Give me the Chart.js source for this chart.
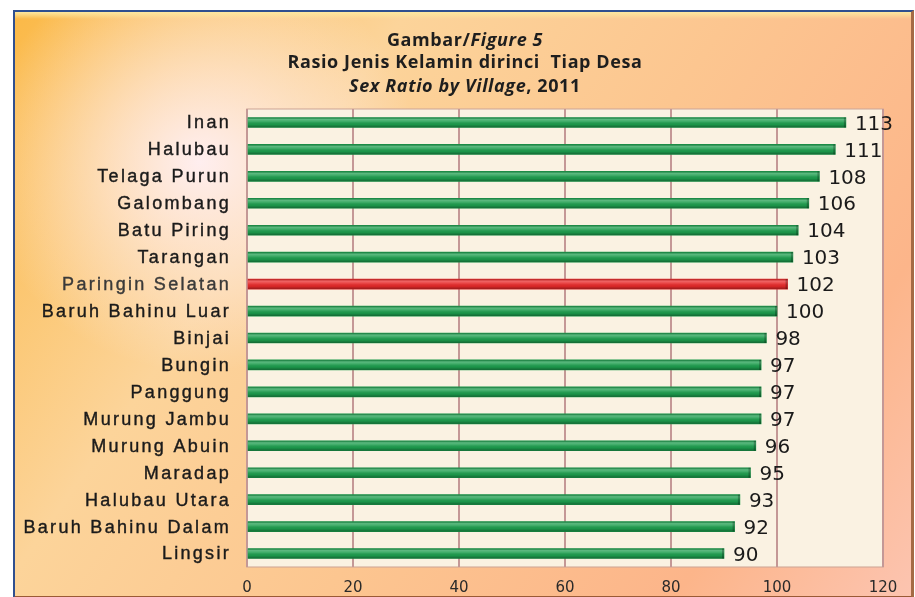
<!DOCTYPE html>
<html>
<head>
<meta charset="utf-8">
<script src="https://cdn.jsdelivr.net/npm/chart.js@4.4.1/dist/chart.umd.min.js"></script>
<style>
  html,body{margin:0;padding:0;background:#ffffff;width:915px;height:597px;overflow:hidden;}
  #frame{position:absolute;left:13px;top:10px;width:896px;height:584px;
    border-left:2px solid #2f4f8f;border-top:2px solid #2f4f8f;border-right:3px solid #a56a45;border-bottom:3px solid #9a5a35;
    background:linear-gradient(125deg,#fbb947 0%,#fcd49a 30%,#fcc690 55%,#fcb58a 82%,#fcc4b0 100%);}
  #glow{position:absolute;left:0;top:0;width:100%;height:100%;
    background:radial-gradient(ellipse 220px 210px at 185px 150px,rgba(255,240,245,0.95),rgba(255,235,235,0) 100%);}
  #bevel{position:absolute;left:0;top:0;width:100%;height:7px;background:linear-gradient(#fde8a0,rgba(253,232,160,0));}
  canvas{position:absolute;left:0;top:0;}
</style>
</head>
<body>
<div id="frame"><div id="glow"></div><div id="bevel"></div><canvas id="c" width="896" height="584"></canvas></div>
<script>
const categories = ["Inan","Halubau","Telaga Purun","Galombang","Batu Piring","Tarangan","Paringin Selatan","Baruh Bahinu Luar","Binjai","Bungin","Panggung","Murung Jambu","Murung Abuin","Maradap","Halubau Utara","Baruh Bahinu Dalam","Lingsir"];
const sexRatio = [113,111,108,106,104,103,102,100,98,97,97,97,96,95,93,92,90];
const highlightVillage = "Paringin Selatan";
const xTicks = [0,20,40,60,80,100,120];
const titleLines = [
  [["Gambar/",""],["Figure 5","italic"]],
  [["Rasio Jenis Kelamin dirinci  Tiap Desa",""]],
  [["Sex Ratio by Village","italic"],[", 2011",""]]
];

const GREEN = "#1d9e4e", RED = "#e82a2a";

const titlePlugin = {
  id:"titleMixed",
  afterDraw(chart){
    const ctx = chart.ctx;
    const ys = [29,51,75];
    ctx.save();
    ctx.fillStyle = "#1e1e1e";
    ctx.textBaseline = "middle";
    if ('letterSpacing' in ctx) ctx.letterSpacing = "0.6px";
    titleLines.forEach((parts,i)=>{
      const fonts = parts.map(p=> (p[1]==="italic"?"italic ":"") + "bold 18px 'Open Sans', Lato, sans-serif");
      let total = 0;
      parts.forEach((p,j)=>{ctx.font=fonts[j]; total += ctx.measureText(p[0]).width;});
      let x = chart.width/2 - total/2 + 2;
      ctx.textAlign = "left";
      parts.forEach((p,j)=>{ctx.font=fonts[j]; ctx.fillText(p[0],x,ys[i]); x += ctx.measureText(p[0]).width;});
    });
    ctx.restore();
  }
};

const plotBg = {
  id:"plotBg",
  beforeDraw(chart){
    const {ctx,chartArea:a} = chart;
    ctx.save();
    ctx.fillStyle = "#faf2e2";
    ctx.fillRect(a.left,a.top,a.right-a.left,a.bottom-a.top);
    ctx.strokeStyle = "rgba(205,165,150,0.7)";
    ctx.lineWidth = 1.5;
    ctx.strokeRect(a.left,a.top,a.right-a.left,a.bottom-a.top);
    ctx.restore();
  }
};

const barShine = {
  id:"barShine",
  afterDatasetsDraw(chart){
    const ctx = chart.ctx;
    const meta = chart.getDatasetMeta(0);
    ctx.save();
    meta.data.forEach((el,i)=>{
      const p = el.getProps(["x","y","base","height"],true);
      const h = p.height, top = p.y - h/2;
      const g = ctx.createLinearGradient(0,top,0,top+h);
      g.addColorStop(0,"rgba(0,0,0,0.2)");
      g.addColorStop(0.2,"rgba(255,255,255,0.28)");
      g.addColorStop(0.4,"rgba(255,255,255,0.15)");
      g.addColorStop(0.7,"rgba(0,0,0,0.05)");
      g.addColorStop(1,"rgba(0,0,0,0.35)");
      ctx.fillStyle = g;
      ctx.fillRect(p.base, top, p.x-p.base, h);
      ctx.fillStyle = "rgba(0,0,0,0.25)";
      ctx.fillRect(p.x-2, top, 2, h);
    });
    // value labels
    ctx.fillStyle = "#1a1a1a";
    ctx.font = "20px 'DejaVu Sans', Verdana, sans-serif";
    ctx.textAlign = "left";
    ctx.textBaseline = "middle";
    meta.data.forEach((el,i)=>{
      ctx.fillText(String(sexRatio[i]), el.x + 9, el.y + 2);
    });
    // category labels (with letter spacing)
    const ys = chart.scales.y;
    ctx.font = "18px 'Liberation Sans', Arial, sans-serif";
    ctx.textAlign = "right";
    ctx.lineWidth = 0.4;
    if ('letterSpacing' in ctx) ctx.letterSpacing = "2.3px";
    categories.forEach((c,i)=>{
      const col = c===highlightVillage ? "#3a3a3a" : "#1b1b1b";
      ctx.fillStyle = col; ctx.strokeStyle = col;
      const y = ys.getPixelForValue(i) + 1;
      ctx.fillText(c, ys.right - 16, y);
      ctx.strokeText(c, ys.right - 16, y);
    });
    ctx.restore();
  }
};

new Chart(document.getElementById("c"),{
  type:"bar",
  data:{
    labels:categories,
    datasets:[{
      data:sexRatio,
      backgroundColor:categories.map(c=>c===highlightVillage?RED:GREEN),
      borderWidth:0,
      barThickness:10
    }]
  },
  options:{
    indexAxis:"y",
    responsive:false,
    animation:false,
    devicePixelRatio:1,
    layout:{padding:{top:97,right:28,left:0,bottom:0}},
    plugins:{legend:{display:false},tooltip:{enabled:false},title:{display:false}},
    scales:{
      x:{
        min:0,max:120,
        afterBuildTicks(s){ s.ticks = xTicks.map(v=>({value:v})); },
        grid:{color:"#c49896",lineWidth:2,drawTicks:false},
        border:{display:false},
        ticks:{color:"#2a2a2a",font:{family:"'DejaVu Sans', Verdana, sans-serif",size:15},padding:12},
        afterFit(s){ s.height = 29; }
      },
      y:{
        grid:{display:false},
        border:{display:false},
        ticks:{color:"rgba(0,0,0,0)",font:{size:17}},
        afterFit(s){ s.width = 232; }
      }
    }
  },
  plugins:[plotBg,titlePlugin,barShine]
});
</script>
</body>
</html>
